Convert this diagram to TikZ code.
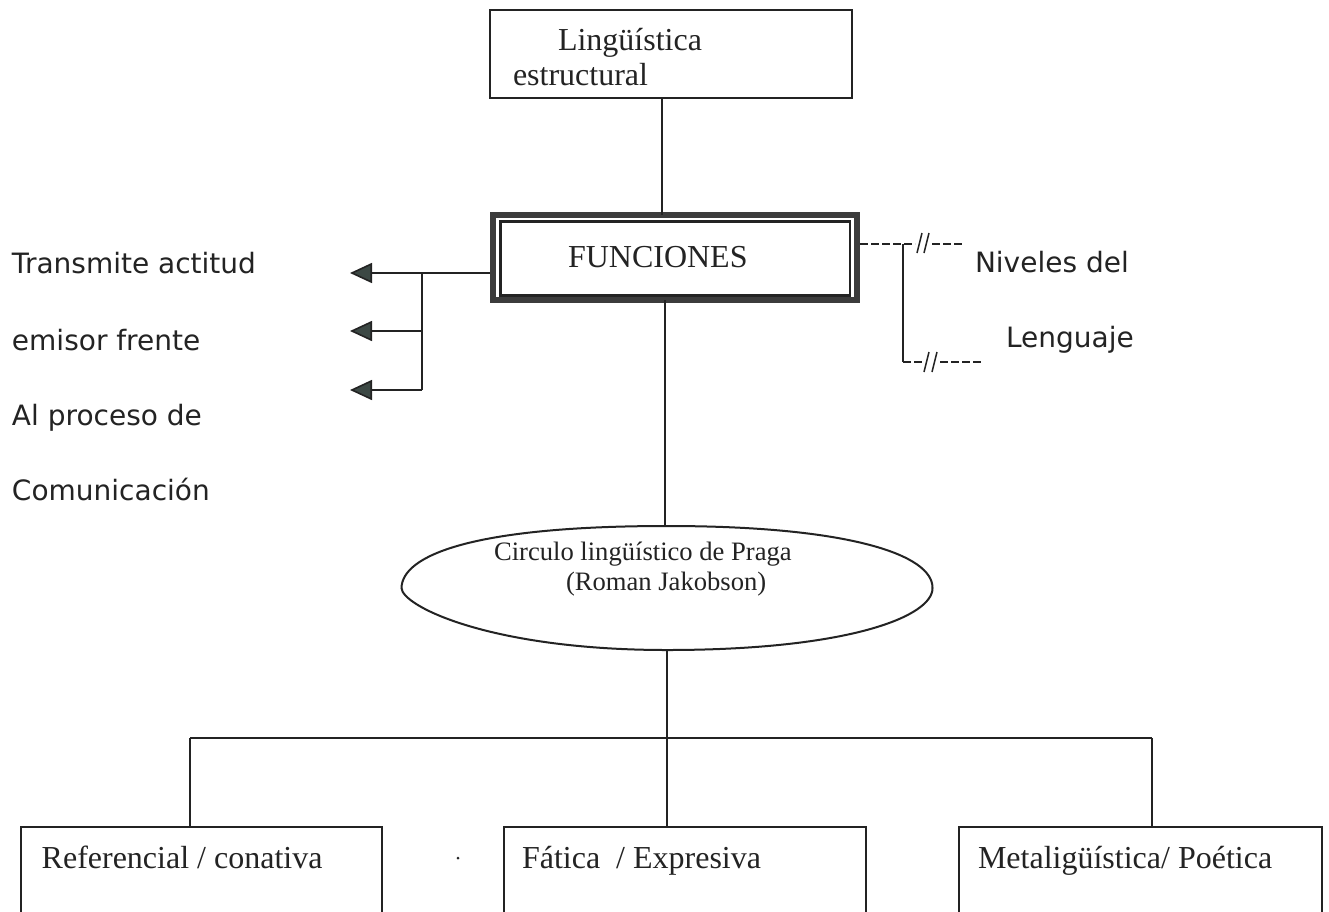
\documentclass[tikz,border=0pt]{standalone}
\usepackage{fontspec}
\setmainfont{Liberation Serif}
\newfontfamily\sansf{DejaVu Sans}
\usetikzlibrary{shapes.geometric,arrows.meta}
\definecolor{ink}{RGB}{35,35,35}
\definecolor{frame}{RGB}{60,60,60}
\definecolor{tipc}{RGB}{60,72,68}
\begin{document}
\begin{tikzpicture}[x=1pt,y=-1pt,
  every node/.style={outer sep=0pt},
  conn/.style={draw=ink,line width=1.6pt},
  boxnode/.style={draw=ink,line width=2pt,rectangle,inner sep=0pt},
  funbox/.style={draw=frame,line width=6pt,rectangle,inner sep=0pt,minimum width=364pt,minimum height=85pt},
  ellnode/.style={ellipse,inner sep=0pt,minimum width=531pt,minimum height=124pt},
  ellline/.style={draw=ink,line width=2pt},
  sertxt/.style={anchor=base west,inner sep=0pt,text=ink,font=\fontsize{32}{36}\selectfont},
  elltxt/.style={anchor=base west,inner sep=0pt,text=ink,font=\fontsize{26.6}{30}\selectfont},
  santxt/.style={anchor=base west,inner sep=0pt,text=ink,font=\sansf\fontsize{28}{32}\selectfont},
  arr/.style={conn,-{Triangle[length=22pt,width=20pt,fill=tipc]}},
  dashln/.style={draw=ink,line width=1.6pt,dash pattern=on 8pt off 3pt},
  slash/.style={draw=ink,line width=1.5pt}
]
\useasboundingbox[fill=white] (0,0) rectangle (1329,911);

% top box
\node[boxnode,minimum width=362pt,minimum height=88pt] (top) at (671,54) {};
\node[sertxt] (toptxt1) at (558,50) {Lingüística};
\node[sertxt] (toptxt2) at (513,85) {estructural};

% FUNCIONES
\node[funbox] (fun) at (675,257.5) {};
\node[draw=ink,line width=2.5pt,rectangle,inner sep=0pt,minimum width=349.3pt,minimum height=74.2pt] (funin) at (675.35,258.4) {};
\node[sertxt] (funtxt) at (568,267) {FUNCIONES};

% connector top -> fun
\coordinate (cx1) at (662,0);
\draw[conn] (top.south -| cx1) -- (fun.north -| cx1);

% left arrows
\coordinate (a1) at (350,273);
\coordinate (a2) at (350,331);
\coordinate (a3) at (350,390);
\coordinate (brn) at (422,273);
\draw[arr] ([xshift=-3pt]fun.west |- a1) -- (a1);
\draw[conn] (brn) -- (brn |- a3);
\draw[arr] (brn |- a2) -- (a2);
\draw[arr] (brn |- a3) -- (a3);

% left texts
\node[santxt] (l1) at (12,273) {Transmite actitud};
\node[santxt] (l2) at (12,350) {emisor frente};
\node[santxt] (l3) at (12,425) {Al proceso de};
\node[santxt] (l4) at (12,500) {Comunicación};

% right dashed
\coordinate (d1) at (915,244);
\coordinate (d2) at (932,244);
\coordinate (d3) at (963,244);
\coordinate (v1) at (903,244);
\coordinate (v2) at (903,362);
\coordinate (e1) at (922,362);
\coordinate (e2) at (940,362);
\coordinate (e3) at (982,362);
\draw[dashln] ([xshift=3pt]fun.east |- d1) -- (d1);
\draw[slash] (917,253) -- (922,233);
\draw[slash] (924,253) -- (929,233);
\draw[dashln] (d2) -- (d3);
\draw[conn] (v1) -- (v2);
\draw[dashln] (v2) -- (e1);
\draw[slash] (924,372) -- (929,352);
\draw[slash] (932,372) -- (937,352);
\draw[dashln] (e2) -- (e3);
\node[santxt] (r1) at (975,272) {Niveles del};
\node[santxt] (r2) at (1006,347) {Lenguaje};

% ellipse (node for anchors, outline drawn as a slightly flattened oval)
\node[ellnode] (ell) at (667,588) {};
\draw[ellline] (ell.west) .. controls (402,556) and (470,526) .. (ell.north)
  .. controls (850,526) and (933,555) .. (ell.east)
  .. controls (933,616) and (850,650) .. (ell.south)
  .. controls (490,650) and (402,606) .. (ell.west) -- cycle;
\node[elltxt] (et1) at (494,560) {Circulo lingüístico de Praga};
\node[elltxt] (et2) at (566,590) {(Roman Jakobson)};
\coordinate (cx2) at (665,0);
\draw[conn] (fun.south -| cx2) -- (ell.north -| cx2);

% bottom boxes
\node[boxnode,minimum width=361pt,minimum height=113.3pt] (b1) at (201.2,883.35) {};
\node[boxnode,minimum width=362pt,minimum height=113.3pt] (b2) at (685,883.35) {};
\node[boxnode,minimum width=362.4pt,minimum height=113.3pt] (b3) at (1140.5,883.35) {};
\node[sertxt] (bt1) at (41.7,868) {Referencial / conativa};
\node[sertxt] (bt2) at (522,868) {Fática\ \ / Expresiva};
\node[sertxt] (bt3) at (978,868) {Metaligüística/ Poética};

% bar
\coordinate (bar) at (667,738);
\coordinate (bl) at (190,738);
\coordinate (bri) at (1152,738);
\draw[conn] (ell.south) -- (bar);
\draw[conn] (bl) -- (bri);
\draw[conn] (bl) -- (bl |- b1.north);
\draw[conn] (bar) -- (bar |- b2.north);
\draw[conn] (bri) -- (bri |- b3.north);

% stray dot
\fill[ink] (458,858) circle (1.5pt);
\end{tikzpicture}
\end{document}
